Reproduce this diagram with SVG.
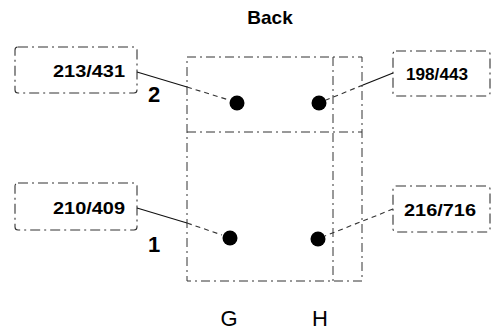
<svg xmlns="http://www.w3.org/2000/svg" width="501" height="334" viewBox="0 0 501 334">
<style>
.frame{fill:none;stroke:#333;stroke-width:1;stroke-dasharray:9 4 2 4}
.box{fill:none;stroke:#333;stroke-width:1.1;stroke-dasharray:10 4 2 4}
.lbl{font-family:"Liberation Sans",Arial,sans-serif;font-weight:bold;font-size:17px;fill:#000}
.num{font-family:"Liberation Sans",Arial,sans-serif;font-weight:bold;font-size:22px;fill:#000}
.col{font-family:"Liberation Sans",Arial,sans-serif;font-size:22px;fill:#000}
.ttl{font-family:"Liberation Sans",Arial,sans-serif;font-weight:bold;font-size:19px;fill:#000}
.solid{fill:none;stroke:#111;stroke-width:1.2}
.dash{fill:none;stroke:#333;stroke-width:1.1;stroke-dasharray:5 4}
.dot{fill:#000}
</style>
<rect width="501" height="334" fill="#fff"/>
<text class="ttl" x="270" y="24" text-anchor="middle">Back</text>
<g id="frame">
<rect class="frame" x="187" y="57" width="175" height="224"/>
<line class="frame" x1="333" y1="57" x2="333" y2="281"/>
<line class="frame" x1="187" y1="132" x2="362" y2="132"/>
</g>
<g id="dots">
<circle class="dot" cx="237" cy="103" r="7.5"/>
<circle class="dot" cx="319" cy="103" r="7.5"/>
<circle class="dot" cx="230" cy="238" r="7.5"/>
<circle class="dot" cx="318" cy="239" r="7.5"/>
</g>
<g id="node-213-431">
<rect class="box" x="15" y="47" width="122" height="46" rx="3"/>
<text class="lbl" x="53" y="77" textLength="72" lengthAdjust="spacingAndGlyphs">213/431</text>
</g>
<g id="node-198-443">
<rect class="box" x="393" y="51" width="97" height="45" rx="3"/>
<text class="lbl" x="406" y="80" textLength="62" lengthAdjust="spacingAndGlyphs">198/443</text>
</g>
<g id="node-210-409">
<rect class="box" x="15" y="183" width="122" height="47" rx="3"/>
<text class="lbl" x="53" y="214" textLength="72" lengthAdjust="spacingAndGlyphs">210/409</text>
</g>
<g id="node-216-716">
<rect class="box" x="393" y="186" width="97" height="46" rx="3"/>
<text class="lbl" x="404" y="216" textLength="72" lengthAdjust="spacingAndGlyphs">216/716</text>
</g>
<g id="connectors">
<line class="solid" x1="137" y1="72" x2="187" y2="87"/>
<line class="dash" x1="187" y1="87" x2="229" y2="100"/>
<line class="solid" x1="393" y1="73" x2="363" y2="85"/>
<line class="dash" x1="363" y1="85" x2="326" y2="100"/>
<line class="solid" x1="137" y1="208" x2="187" y2="223"/>
<line class="dash" x1="187" y1="223" x2="222" y2="235"/>
<line class="dash" x1="393" y1="209" x2="325" y2="236"/>
</g>
<text class="num" x="154" y="102" text-anchor="middle">2</text>
<text class="num" x="154" y="252" text-anchor="middle">1</text>
<text class="col" x="229" y="326" text-anchor="middle">G</text>
<text class="col" x="320" y="326" text-anchor="middle">H</text>
</svg>
